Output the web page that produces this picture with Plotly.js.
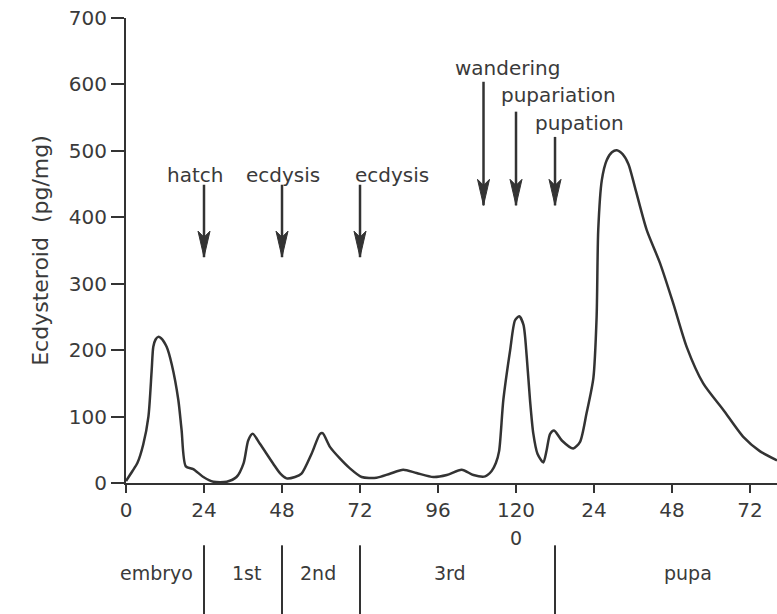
<!DOCTYPE html>
<html>
<head>
<meta charset="utf-8">
<script src="https://cdn.plot.ly/plotly-3.0.1.min.js"></script>
<style>html,body{margin:0;padding:0;background:#fff;}#chart{width:777px;height:614px;}</style>
</head>
<body>
<div id="chart"></div>
<script>
// Development time (hours from egg laying; pupal time continues after puparium formation at 120 h)
const hours = [0,2,3.5,5.3,6.9,7.9,8.4,9.1,9.9,10.8,12.5,14.1,16.1,17.1,18.4,20.7,23.8,26.9,31,34,36.2,37.6,39,41.2,45.3,47.5,49.4,52,54,57.1,59.7,60.5,62.8,65.8,68.9,72.5,77.1,81.2,85.3,89.4,94.6,98.7,103.3,106.9,110.5,112.5,113.8,114.8,116.1,118.2,119.7,121,122.3,123.3,124.3,125.3,126.6,128.4,129.4,130.5,131.7,134.1,137.6,139.7,141.7,143.8,144.8,145.3,146.4,147.9,149.5,151,152.8,154.6,156.6,160.2,164.3,168.4,172.5,177.6,183.8,190,195,200.3];
const ecdysteroid = [3,18,30,58,100,170,205,216,220,218,205,178,125,80,25,21,9,2,2,9,30,64,74,59,29,14,7,9,14,44,74,75,54,37,22,9,8,14,20,15,9,12,20,12,10,18,30,48,125,200,245,251,238,190,125,75,44,31,49,74,79,64,52,62,105,158,250,381,456,486,498,501,495,480,445,381,331,270,205,150,110,69,48,34];

// Axis ticks
const tickVals = [0,24,48,72,96,120,144,168,192];
const tickText = ['0','24','48','72','96','120','24','48','72'];
const yTicks = [0,100,200,300,400,500,600,700];

// Event arrows
const eventLabels = ['hatch','ecdysis','ecdysis','wandering','pupariation','pupation'];
const eventHours = [24,48,72,110,120,132];
const arrowTip = [340,340,340,418,418,418];
const arrowTail = [449,449,449,604,559,521];
const labelHours = [21.1,48.2,81.7,117.4,133.2,139.5];
const labelValues = [463,463,463,625,584,542];

// Developmental stages
const stageNames = ['embryo','1st','2nd','3rd','pupa'];
const stageLabelHours = [9.5,37,59,99.6,173];
const stageBoundaries = [24,48,72,132];

const ink = '#333333';
const textColor = '#3a3a3a';
const fontFam = 'DejaVu Sans, sans-serif';

const shapes = [];
const annotations = [];

eventHours.forEach((h, i) => {
  shapes.push({type:'line', xref:'x', yref:'y', x0:h, x1:h, y0:arrowTail[i], y1:arrowTip[i],
    line:{color:ink, width:2.5}});
  shapes.push({type:'path', xref:'x', yref:'y', xsizemode:'pixel', ysizemode:'pixel',
    xanchor:h, yanchor:arrowTip[i], path:'M0,0 L-6,26 L0,20 L6,26 Z',
    fillcolor:ink, line:{color:ink, width:1}});
  annotations.push({x:labelHours[i], y:labelValues[i], xref:'x', yref:'y', text:eventLabels[i],
    showarrow:false, xanchor:'center', yanchor:'middle',
    font:{family:fontFam, size:20, color:textColor}});
});

stageBoundaries.forEach(h => {
  shapes.push({type:'line', xref:'x', yref:'paper', x0:h, x1:h, y0:-0.134, y1:-0.29,
    line:{color:ink, width:2}});
});
stageNames.forEach((s, i) => {
  annotations.push({x:stageLabelHours[i], y:-0.194, xref:'x', yref:'paper', text:s,
    showarrow:false, xanchor:'center', yanchor:'middle',
    font:{family:fontFam, size:19, color:textColor}});
});
// second line under 120: pupal time zero
annotations.push({x:120, y:-0.118, xref:'x', yref:'paper', text:'0', showarrow:false,
  xanchor:'center', yanchor:'middle', font:{family:fontFam, size:19, color:textColor}});

const trace = {
  x: hours, y: ecdysteroid, type:'scatter', mode:'lines',
  line:{color:ink, width:2.5, shape:'spline', smoothing:0.7},
  hoverinfo:'skip'
};

const layout = {
  width:777, height:614,
  margin:{l:126, r:0, t:18, b:131},
  paper_bgcolor:'#fff', plot_bgcolor:'#fff',
  showlegend:false,
  font:{family:fontFam, color:textColor},
  xaxis:{
    range:[0,200.3], showgrid:false, zeroline:false,
    showline:true, linecolor:ink, linewidth:2,
    ticks:'outside', ticklen:8, tickwidth:2, tickcolor:ink,
    tickmode:'array', tickvals:tickVals, ticktext:tickText,
    tickfont:{family:fontFam, size:20, color:textColor}
  },
  yaxis:{
    range:[0,700], showgrid:false, zeroline:false,
    showline:true, linecolor:ink, linewidth:2,
    ticks:'outside', ticklen:13, tickwidth:2, tickcolor:ink,
    tickmode:'array', tickvals:yTicks,
    tickfont:{family:fontFam, size:20, color:textColor},
    title:{text:'Ecdysteroid\u00a0\u00a0(pg/mg)', standoff:14,
      font:{family:fontFam, size:22, color:textColor}}
  },
  shapes: shapes,
  annotations: annotations
};

Plotly.newPlot('chart', [trace], layout, {displayModeBar:false, staticPlot:true});
</script>
</body>
</html>
